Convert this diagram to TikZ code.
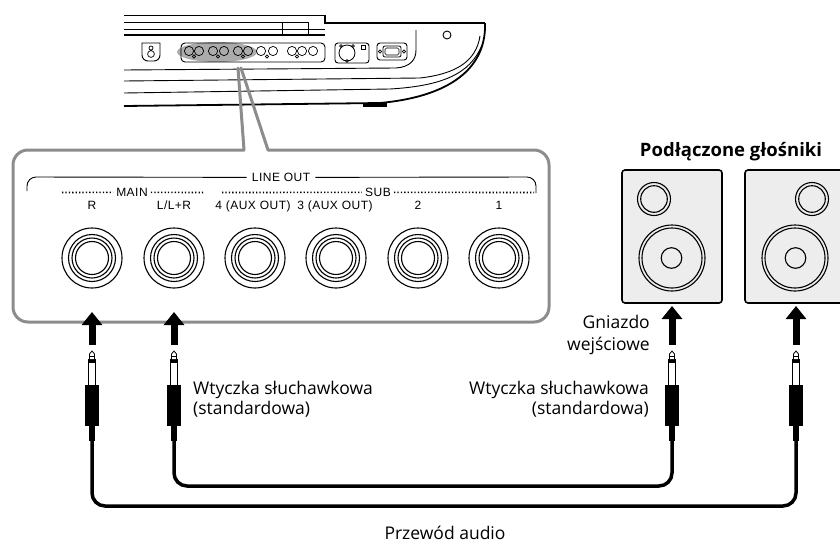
\documentclass[tikz,border=0pt]{standalone}
\usepackage{fontspec}
\setmainfont{Open Sans}
\newfontfamily\panelfont[LetterSpace=4]{Liberation Sans}
\usetikzlibrary{arrows.meta}

\tikzset{
  jack/.pic={
    \draw[line width=1.1pt] (0,0) circle[radius=30] (0,0) circle[radius=23.5]
      (0,0) circle[radius=20] (0,0) circle[radius=16.5];
  },
  plug/.pic={
    \fill[white] (-3.5,7) rectangle (3.5,34);
    \draw[line width=0.8pt] (-3.5,8) rectangle (3.5,34);
    \fill (-3.5,8.5) rectangle (3.5,11.5);
    \draw[line width=0.8pt, fill=white, line join=round]
      (-2.5,8) -- (-2.5,3) -- (0,0) -- (2.5,3) -- (2.5,8);
    \draw[line width=0.6pt] (-2.5,4.8) -- (2.5,4.8);
    \fill (-7,34) rectangle (7,75);
    \fill (-3,75) rectangle (3,89.5);
  }
}

\begin{document}
\begin{tikzpicture}[x=1pt,y=-1pt,
  panelline/.style={draw=black!45, line width=3pt, line cap=round, line join=round},
  thinline/.style={line width=0.9pt},
  paneltext/.style={font=\panelfont\fontsize{12}{14}\selectfont, inner sep=0pt},
  bodytext/.style={font=\fontsize{17.5}{20.5}\selectfont, inner sep=0pt},
  dots/.style={line width=1.6pt, dash pattern=on 1.3pt off 2.1pt},
  pusharrow/.style={line width=7pt, -{Triangle[width=20pt,length=13pt]}},
  cable/.style={line width=3.5pt, rounded corners=13pt},
  spk/.style={draw, line width=1.6pt, fill=black!7, rounded corners=3pt,
    minimum width=100pt, minimum height=133pt, inner sep=0pt},
  kb/.style={line width=0.9pt},
  kbthick/.style={line width=1.8pt}
]
\path[use as bounding box, clip] (0,0) rectangle (840,544);

% ---------- instrument rear panel (top) ----------
\draw[kbthick] (124,15.5) -- (325,15.5) -- (325,23) -- (485,23);
\draw[kb] (124,22.5) -- (282,22.5);
\draw[kb] (282,22.5) rectangle (308,35);
\draw[kb] (124,29) -- (325,29);
\draw[kbthick] (124,35) -- (325,35);
% right end of the body
\draw[kbthick] (485,23) -- (485,29) .. controls (483,72) and (445,97) .. (380,103) -- (124,106);
\draw[kb] (482,45) .. controls (470,75) and (440,86) .. (390,89) -- (124,93);
\draw[kb] (124,81) -- (420,78) .. controls (455,74) and (476,62) .. (480,36);
\draw[kb] (124,70) -- (396,68) .. controls (410,67) and (416,60) .. (416,50) -- (416,30);
\fill (363,103) rectangle (387,106.5);
\draw[kb] (447,35) circle[radius=4];

% highlighted output strip
\fill[black!33] (217,52) ellipse[x radius=40, y radius=10];
\draw[kb, rounded corners=4] (181,43) rectangle (325,62);
\foreach \cx in {189,199,213,224,238,248,261,273,292,302,313}
  \draw[line width=0.7pt] (\cx,51) circle[radius=4.6];
\foreach \cx in {194,218,243,267,297}
  \draw[line width=0.6pt] (\cx,56.5) circle[radius=1.6];

% small round socket
\draw[kb] (142,43) -- (142,55) to[out=-90,in=180] (148,61) -- (154,61)
  to[out=0,in=-90] (160,55) -- (160,43) -- cycle;
\draw[line width=0.7pt] (151,48) circle[radius=2] (151,54) circle[radius=3.4];

% XLR socket
\draw[kb, rounded corners=3] (335,43) rectangle (369,63);
\draw[line width=0.8pt] (347,53) circle[radius=8];
\draw[line width=0.6pt] (341,46) circle[radius=1.4] (353,46) circle[radius=1.4] (347,61) circle[radius=1.4];
\draw[line width=0.7pt] (361,45) rectangle (365,49);

% D-sub socket
\draw[kb, rounded corners=3] (377,43) rectangle (407,60);
\draw[line width=0.8pt, rounded corners=2] (383,46) rectangle (401,57);
\draw[line width=0.6pt, rounded corners=1.5] (385,48) rectangle (399,55);
\draw[line width=0.6pt] (380,51.5) circle[radius=1.6] (404,51.5) circle[radius=1.6];

% ---------- enlarged LINE OUT panel ----------
\draw[panelline, rounded corners=15] (244,150) -- (13,150) -- (13,322)
  -- (549,322) -- (549,150) -- (268,150);
\draw[panelline] (244,150) -- (238,68);
\draw[panelline] (241,68) -- (268,150);

\node[paneltext, anchor=base] (lineout) at (281,181.5) {LINE OUT};
\draw[thinline, rounded corners=9] ([xshift=-5pt]lineout.west) -- (27,177) -- (27,191);
\draw[thinline, rounded corners=9] ([xshift=5pt]lineout.east) -- (536,177) -- (536,193);

\node[paneltext, anchor=base] (main) at (132,196.5) {MAIN};
\node[paneltext, anchor=base] (sub) at (378,196.5) {SUB};
\coordinate (mainL) at (62,192.5);
\coordinate (mainR) at (204,192.5);
\coordinate (subL) at (222,192.5);
\coordinate (subR) at (534,192.5);
\draw[dots] (mainL) -- ([xshift=-3pt]main.west);
\draw[dots] ([xshift=3pt]main.east) -- (mainR);
\draw[dots] (subL) -- ([xshift=-3pt]sub.west);
\draw[dots] ([xshift=3pt]sub.east) -- (subR);

\node[paneltext, anchor=base] (lblR) at (92,209) {R};
\node[paneltext, anchor=base] (lblL) at (174,209) {L/L+R};
\node[paneltext, anchor=base] (lbl4) at (253,209) {4 (AUX OUT)};
\node[paneltext, anchor=base] (lbl3) at (335,209) {3 (AUX OUT)};
\node[paneltext, anchor=base] (lbl2) at (418,209) {2};
\node[paneltext, anchor=base] (lbl1) at (499,209) {1};

\pic at (92,258) {jack};
\pic at (174,258) {jack};
\pic at (255,258) {jack};
\pic at (336,258) {jack};
\pic at (418,258) {jack};
\pic at (499,258) {jack};

% ---------- speakers ----------
\node[font=\bfseries\fontsize{18.5}{21}\selectfont, anchor=base] (title) at (731,156) {Podłączone głośniki};
\node[spk] (spkA) at (672,236.5) {};
\node[spk] (spkB) at (795,236.5) {};
\draw[line width=1.1pt] (654,199) circle[radius=16.5] (654,199) circle[radius=13.3];
\draw[line width=1.1pt] (672,258) circle[radius=33] (672,258) circle[radius=30] (671.5,258) circle[radius=10.3];
\draw[line width=1.1pt] (812,199) circle[radius=16.5] (812,199) circle[radius=13.3];
\draw[line width=1.1pt] (795,258) circle[radius=33] (795,258) circle[radius=30] (795.5,258) circle[radius=10.3];

% ---------- plugs, arrows and cables ----------
\coordinate (inR) at (92,312);
\coordinate (inL) at (174,312);
\coordinate (inA) at (672,306);
\coordinate (inB) at (796,306);
\coordinate (topR) at (92,345);
\coordinate (topL) at (174,345);
\coordinate (topA) at (672,345);
\coordinate (topB) at (796,345);
\coordinate (cabR) at (92,440);
\coordinate (cabL) at (174,440);
\coordinate (cabA) at (672,440);
\coordinate (cabB) at (796,440);

\draw[cable] (cabR) -- ++(0,66) -| (cabB);
\draw[cable] (cabL) -- ++(0,46) -| (cabA);

\pic at (92,351) {plug};
\pic at (174,351) {plug};
\pic at (672,351) {plug};
\pic at (796,351) {plug};

\draw[pusharrow] (topR) -- (inR);
\draw[pusharrow] (topL) -- (inL);
\draw[pusharrow] (topA) -- (inA);
\draw[pusharrow] (topB) -- (inB);

% ---------- captions ----------
\node[bodytext, anchor=base east] (jackcap) at (650,328) {Gniazdo};
\node[bodytext, anchor=base east] (jackcap2) at (650,350) {wejściowe};
\node[bodytext, align=left, anchor=north west] (plugcapL) at (193,380.5) {Wtyczka słuchawkowa\\(standardowa)};
\node[bodytext, align=right, anchor=north east] (plugcapR) at (649,380.5) {Wtyczka słuchawkowa\\(standardowa)};
\node[bodytext, anchor=base] (cablecap) at (445,539) {Przewód audio};
\end{tikzpicture}
\end{document}
